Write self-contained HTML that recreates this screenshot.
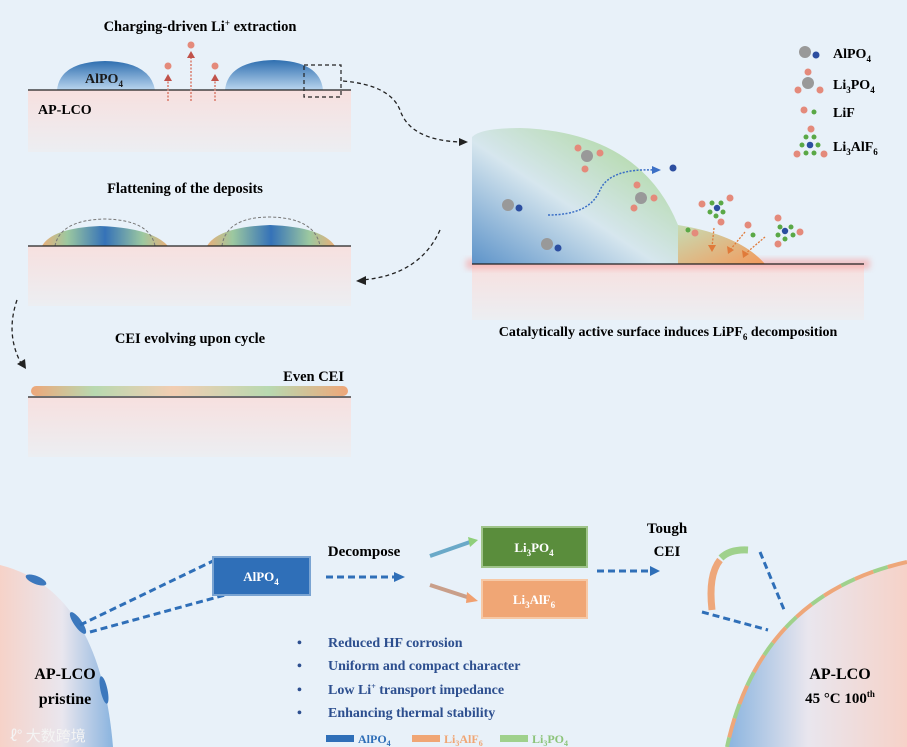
<!DOCTYPE html>
<html><head><meta charset="utf-8"><style>
html,body{margin:0;padding:0;background:#e8f1f9}
svg{display:block}
text{font-family:"Liberation Serif",serif;font-weight:bold}
</style></head><body>
<svg width="907" height="747" viewBox="0 0 907 747" xmlns="http://www.w3.org/2000/svg">
<defs>
<linearGradient id="pink" x1="0" y1="0" x2="0" y2="1"><stop offset="0" stop-color="#f7e0df"/><stop offset="1" stop-color="#eceef2"/></linearGradient>
<linearGradient id="dome" x1="0" y1="0" x2="0" y2="1"><stop offset="0" stop-color="#2f6fb0"/><stop offset="1" stop-color="#b9d5ee"/></linearGradient>
<linearGradient id="flat" x1="0" y1="0" x2="1" y2="0"><stop offset="0" stop-color="#e9b07a"/><stop offset=".2" stop-color="#9cc8a0"/><stop offset=".5" stop-color="#3572b8"/><stop offset=".8" stop-color="#9cc8a0"/><stop offset="1" stop-color="#e9b07a"/></linearGradient>
<linearGradient id="cei" x1="0" y1="0" x2="1" y2="0"><stop offset="0" stop-color="#eea77a"/><stop offset=".2" stop-color="#b8d9b0"/><stop offset=".45" stop-color="#f2cdb2"/><stop offset=".75" stop-color="#b8d9b0"/><stop offset="1" stop-color="#eea77a"/></linearGradient>
<linearGradient id="big" x1="0" y1="1" x2="1" y2="0"><stop offset="0" stop-color="#5d93c9"/><stop offset=".45" stop-color="#d6e6ee"/><stop offset=".8" stop-color="#b7dbb0"/></linearGradient>
<linearGradient id="orh" x1="0" y1="0" x2="1" y2="1"><stop offset="0" stop-color="#c6dcb4"/><stop offset="1" stop-color="#f39a5c"/></linearGradient>
<linearGradient id="lb" x1="0" y1="0" x2="1" y2="0"><stop offset="0" stop-color="#f6d2c8"/><stop offset=".55" stop-color="#e9e6ee"/><stop offset="1" stop-color="#8ab4df"/></linearGradient>
<linearGradient id="rb" x1="0" y1="0" x2="1" y2="0"><stop offset="0" stop-color="#8ab4df"/><stop offset=".45" stop-color="#e9e6ee"/><stop offset="1" stop-color="#f6d2c8"/></linearGradient>
<filter id="glow" x="-20%" y="-40%" width="140%" height="180%"><feGaussianBlur stdDeviation="3"/></filter>
</defs>

<!-- Panel 1 -->
<text x="200" y="31" font-size="14.5" text-anchor="middle">Charging-driven Li<tspan dy="-5" font-size="9">+</tspan><tspan dy="5"> extraction</tspan></text>
<rect x="28" y="90" width="323" height="62" fill="url(#pink)"/>
<path d="M57 90 Q60 62 105 61 Q150 62 155 90 Z" fill="url(#dome)"/>
<path d="M225 90 Q228 61 274 60 Q320 61 323 90 Z" fill="url(#dome)"/>
<line x1="28" y1="90" x2="351" y2="90" stroke="#222" stroke-width="1.3"/>
<text x="85" y="83" font-size="14" fill="#1a1a1a">AlPO<tspan dy="4" font-size="9">4</tspan></text>
<text x="38" y="114" font-size="14">AP-LCO</text>
<g stroke="#d97a6a" stroke-width="1.5" stroke-dasharray="2,1.5" fill="none"><line x1="168" y1="101" x2="168" y2="80"/><line x1="191" y1="101" x2="191" y2="56"/><line x1="215" y1="101" x2="215" y2="80"/></g>
<g fill="#c0524a"><path d="M164 81 L168 74 L172 81Z"/><path d="M187 58 L191 51 L195 58Z"/><path d="M211 81 L215 74 L219 81Z"/></g>
<g fill="#e48a7b"><circle cx="168" cy="66" r="3.5"/><circle cx="191" cy="45" r="3.5"/><circle cx="215" cy="66" r="3.5"/></g>
<rect x="304" y="65" width="37" height="32" fill="none" stroke="#222" stroke-width="1.2" stroke-dasharray="4,3"/>
<path d="M343 81 Q390 85 400 110 Q410 140 460 142" fill="none" stroke="#222" stroke-width="1.3" stroke-dasharray="4,3"/>
<path d="M459 138 L468 142 L459 146Z" fill="#222"/>

<!-- Panel 2 -->
<text x="185" y="193" font-size="14.5" text-anchor="middle">Flattening of the deposits</text>
<rect x="28" y="246" width="323" height="60" fill="url(#pink)"/>
<path d="M42 246 Q52 228 100 226 Q152 228 168 246Z" fill="url(#flat)"/>
<path d="M207 246 Q218 227 270 225 Q322 227 335 246Z" fill="url(#flat)"/>
<path d="M55 246 Q60 220 105 219 Q150 220 155 246" fill="none" stroke="#777" stroke-dasharray="3,2"/>
<path d="M222 246 Q226 217 270 217 Q315 218 320 246" fill="none" stroke="#777" stroke-dasharray="3,2"/>
<line x1="28" y1="246" x2="351" y2="246" stroke="#222" stroke-width="1.3"/>
<path d="M440 230 Q420 275 362 280" fill="none" stroke="#222" stroke-width="1.3" stroke-dasharray="4,3"/>
<path d="M366 276 L356 281 L366 285Z" fill="#222"/>

<!-- Panel 3 -->
<text x="190" y="343" font-size="14.5" text-anchor="middle">CEI evolving upon cycle</text>
<rect x="28" y="397" width="323" height="60" fill="url(#pink)"/>
<rect x="31" y="386" width="317" height="10" rx="5" fill="url(#cei)"/>
<line x1="28" y1="397" x2="351" y2="397" stroke="#222" stroke-width="1.3"/>
<text x="344" y="381" font-size="14.5" text-anchor="end">Even CEI</text>
<path d="M17 300 Q5 335 22 365" fill="none" stroke="#222" stroke-width="1.3" stroke-dasharray="4,3"/>
<path d="M17 364 L26 369 L25 359Z" fill="#222"/>

<!-- Right top -->
<rect x="472" y="264" width="392" height="56" fill="url(#pink)"/>
<rect x="466" y="259" width="404" height="10" fill="#f7a3a3" opacity=".6" filter="url(#glow)"/>
<path d="M472 264 L472 137 Q480 128 520 128 Q640 132 678 225 L678 264Z" fill="url(#big)"/>
<path d="M678 225 Q740 235 765 264 L678 264Z" fill="url(#orh)"/>
<line x1="472" y1="264" x2="864" y2="264" stroke="#222" stroke-width="1.3"/>
<path d="M548 215 Q590 215 600 190 Q610 168 655 170" fill="none" stroke="#3b6fc6" stroke-width="1.5" stroke-dasharray="2,1.5"/>
<path d="M652 166 L661 170 L652 174Z" fill="#3b6fc6"/>
<g fill="#2c4ea0"><circle cx="673" cy="168" r="3.5"/><circle cx="519" cy="208" r="3.5"/><circle cx="558" cy="248" r="3.5"/></g>
<g fill="#999"><circle cx="508" cy="205" r="6"/><circle cx="547" cy="244" r="6"/><circle cx="587" cy="156" r="6"/><circle cx="641" cy="198" r="6"/></g>
<g fill="#e48a7b"><circle cx="578" cy="148" r="3.5"/><circle cx="600" cy="153" r="3.5"/><circle cx="585" cy="169" r="3.5"/><circle cx="637" cy="185" r="3.5"/><circle cx="654" cy="198" r="3.5"/><circle cx="634" cy="208" r="3.5"/><circle cx="695" cy="233" r="3.5"/><circle cx="748" cy="225" r="3.5"/><circle cx="778" cy="218" r="3.5"/><circle cx="800" cy="232" r="3.5"/><circle cx="778" cy="244" r="3.5"/><circle cx="702" cy="204" r="3.5"/><circle cx="730" cy="198" r="3.5"/><circle cx="721" cy="222" r="3.5"/></g>
<g fill="#5aa846"><circle cx="688" cy="230" r="2.5"/><circle cx="753" cy="235" r="2.5"/><circle cx="712" cy="203" r="2.5"/><circle cx="721" cy="203" r="2.5"/><circle cx="710" cy="212" r="2.5"/><circle cx="723" cy="212" r="2.5"/><circle cx="716" cy="216" r="2.5"/><circle cx="780" cy="227" r="2.5"/><circle cx="791" cy="227" r="2.5"/><circle cx="778" cy="235" r="2.5"/><circle cx="793" cy="235" r="2.5"/><circle cx="785" cy="239" r="2.5"/></g>
<g fill="#2c4ea0"><circle cx="717" cy="208" r="3.2"/><circle cx="785" cy="231" r="3.2"/></g>
<g stroke="#e07a3a" stroke-width="1.3" stroke-dasharray="2,1.5"><line x1="714" y1="228" x2="712" y2="247"/><line x1="745" y1="232" x2="730" y2="250"/><line x1="765" y1="237" x2="745" y2="254"/></g>
<g fill="#e07a3a"><path d="M708 245 L712 252 L716 245Z"/><path d="M727 246 L728 254 L734 250Z"/><path d="M742 250 L743 258 L749 254Z"/></g>
<text x="668" y="336" font-size="14" text-anchor="middle">Catalytically active surface induces LiPF<tspan dy="4" font-size="9">6</tspan><tspan dy="-4"> decomposition</tspan></text>

<!-- legend -->
<circle cx="805" cy="52" r="6" fill="#999"/><circle cx="816" cy="55" r="3.5" fill="#2c4ea0"/>
<text x="833" y="58" font-size="14">AlPO<tspan dy="4" font-size="9">4</tspan></text>
<circle cx="808" cy="72" r="3.5" fill="#e48a7b"/><circle cx="808" cy="83" r="6" fill="#999"/><circle cx="798" cy="90" r="3.5" fill="#e48a7b"/><circle cx="820" cy="90" r="3.5" fill="#e48a7b"/>
<text x="833" y="89" font-size="14">Li<tspan dy="4" font-size="9">3</tspan><tspan dy="-4">PO</tspan><tspan dy="4" font-size="9">4</tspan></text>
<circle cx="804" cy="110" r="3.5" fill="#e48a7b"/><circle cx="814" cy="112" r="2.5" fill="#5aa846"/>
<text x="833" y="117" font-size="14">LiF</text>
<g fill="#5aa846"><circle cx="806" cy="137" r="2.5"/><circle cx="814" cy="137" r="2.5"/><circle cx="802" cy="145" r="2.5"/><circle cx="818" cy="145" r="2.5"/><circle cx="806" cy="153" r="2.5"/><circle cx="814" cy="153" r="2.5"/></g>
<circle cx="810" cy="145" r="3.3" fill="#2c4ea0"/>
<g fill="#e48a7b"><circle cx="811" cy="129" r="3.5"/><circle cx="797" cy="154" r="3.5"/><circle cx="824" cy="154" r="3.5"/></g>
<text x="833" y="151" font-size="14">Li<tspan dy="4" font-size="9">3</tspan><tspan dy="-4">AlF</tspan><tspan dy="4" font-size="9">6</tspan></text>

<!-- Bottom -->
<path d="M0 565 Q100 590 113 747 L0 747Z" fill="url(#lb)"/>
<g fill="#3c78bd"><ellipse cx="36" cy="580" rx="11" ry="4" transform="rotate(22 36 580)"/><ellipse cx="78" cy="623" rx="4" ry="13" transform="rotate(-35 78 623)"/><ellipse cx="104" cy="690" rx="3.5" ry="14" transform="rotate(-12 104 690)"/></g>
<path d="M907 562 Q760 595 727 747 L907 747Z" fill="url(#rb)"/>
<path d="M907 562 Q760 595 727 747" fill="none" stroke="#eea77a" stroke-width="4" stroke-dasharray="20,15"/>
<path d="M907 562 Q760 595 727 747" fill="none" stroke="#9fd18c" stroke-width="4" stroke-dasharray="15,20" stroke-dashoffset="15"/>
<g stroke="#2f6fb8" stroke-width="3" stroke-dasharray="7,4" fill="none">
<line x1="80" y1="625" x2="215" y2="560"/><line x1="90" y1="632" x2="225" y2="595"/>
<line x1="326" y1="577" x2="395" y2="577"/><line x1="597" y1="571" x2="650" y2="571"/>
<line x1="760" y1="552" x2="785" y2="612"/><line x1="702" y1="612" x2="768" y2="630"/>
</g>
<path d="M394 572 L405 577 L394 582Z" fill="#2f6fb8"/>
<path d="M650 566 L660 571 L650 576Z" fill="#2f6fb8"/>
<path d="M430 556 L470 542" stroke="#6aa9c8" stroke-width="4"/><path d="M468 537 L478 540 L470 547Z" fill="#8fcf7a"/>
<path d="M430 585 L470 598" stroke="#c99f8a" stroke-width="4"/><path d="M467 592 L478 601 L466 603Z" fill="#f0a070"/>
<text x="364" y="556" font-size="15" text-anchor="middle">Decompose</text>
<rect x="213" y="557" width="97" height="38" fill="#2f6fb8" stroke="#7aa4d2" stroke-width="2"/>
<text x="261" y="581" font-size="13" text-anchor="middle" fill="#fff">AlPO<tspan dy="4" font-size="9">4</tspan></text>
<rect x="482" y="527" width="105" height="40" fill="#5a8d3c" stroke="#9fc48a" stroke-width="2"/>
<text x="534" y="552" font-size="13" text-anchor="middle" fill="#fff">Li<tspan dy="4" font-size="9">3</tspan><tspan dy="-4">PO</tspan><tspan dy="4" font-size="9">4</tspan></text>
<rect x="482" y="580" width="105" height="38" fill="#f0a675" stroke="#f6c9a7" stroke-width="2"/>
<text x="534" y="604" font-size="13" text-anchor="middle" fill="#fff">Li<tspan dy="4" font-size="9">3</tspan><tspan dy="-4">AlF</tspan><tspan dy="4" font-size="9">6</tspan></text>
<text x="667" y="533" font-size="15" text-anchor="middle">Tough</text>
<text x="667" y="556" font-size="15" text-anchor="middle">CEI</text>
<path d="M712 610 Q708 575 720 560" fill="none" stroke="#eea77a" stroke-width="7"/>
<path d="M721 558 Q730 549 748 550" fill="none" stroke="#9fd18c" stroke-width="7"/>
<g font-size="14" fill="#2d4f8f">
<text x="297" y="647">•</text><text x="328" y="647">Reduced HF corrosion</text>
<text x="297" y="670">•</text><text x="328" y="670">Uniform and compact character</text>
<text x="297" y="694">•</text><text x="328" y="694">Low Li<tspan dy="-5" font-size="8">+</tspan><tspan dy="5"> transport impedance</tspan></text>
<text x="297" y="717">•</text><text x="328" y="717">Enhancing thermal stability</text>
</g>
<rect x="326" y="735" width="28" height="7" fill="#2f6fb8"/>
<text x="358" y="743" font-size="12" fill="#2f6fb8">AlPO<tspan dy="3" font-size="8">4</tspan></text>
<rect x="412" y="735" width="28" height="7" fill="#f0a675"/>
<text x="444" y="743" font-size="12" fill="#f0a675">Li<tspan dy="3" font-size="8">3</tspan><tspan dy="-3">AlF</tspan><tspan dy="3" font-size="8">6</tspan></text>
<rect x="500" y="735" width="28" height="7" fill="#9fd18c"/>
<text x="532" y="743" font-size="12" fill="#8cc47a">Li<tspan dy="3" font-size="8">3</tspan><tspan dy="-3">PO</tspan><tspan dy="3" font-size="8">4</tspan></text>
<text x="65" y="679" font-size="16" text-anchor="middle">AP-LCO</text>
<text x="65" y="704" font-size="16" text-anchor="middle">pristine</text>
<text x="840" y="679" font-size="16" text-anchor="middle">AP-LCO</text>
<text x="840" y="703" font-size="15" text-anchor="middle">45 °C 100<tspan dy="-6" font-size="9">th</tspan></text>
<text x="10" y="741" font-size="15" fill="#f4f4f4" style="font-family:'Noto Sans CJK SC',sans-serif;font-weight:normal">ℓ° 大数跨境</text>
</svg>
</body></html>
